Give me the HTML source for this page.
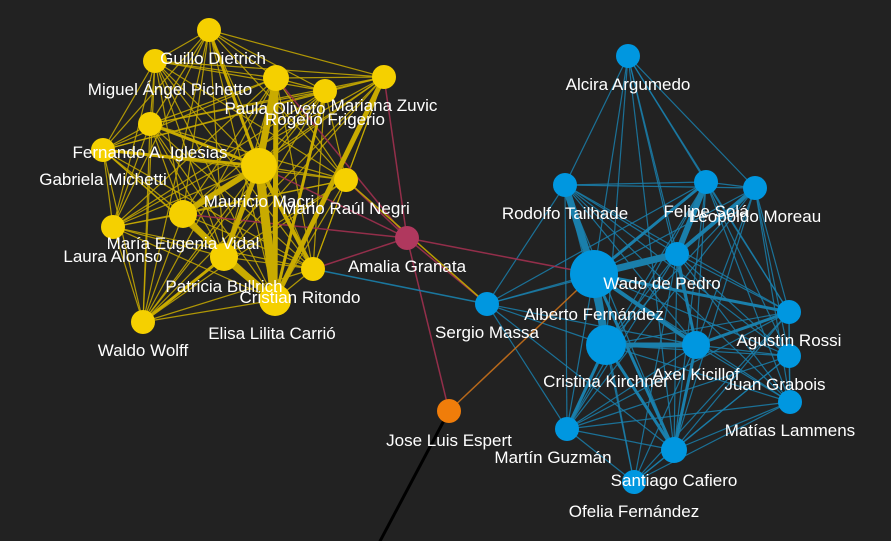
<!DOCTYPE html>
<html><head><meta charset="utf-8"><title>Network graph of Argentine politicians</title>
<style>
html,body{margin:0;padding:0;background:#222;width:891px;height:541px;overflow:hidden}
svg{display:block}
text{font-family:"Liberation Sans",sans-serif;font-size:17px;fill:#fff;text-anchor:middle}
</style></head><body>
<svg id="chart" width="891" height="541" viewBox="0 0 891 541">
<g id="edges"></g>
<g id="nodes"></g>
<g id="labels"></g>
</svg>
<script>
const nodeNames = ["Guillo Dietrich","Miguel Ángel Pichetto","Paula Oliveto","Rogelio Frigerio","Mariana Zuvic","Fernando A. Iglesias","Gabriela Michetti","Mauricio Macri","Mario Raúl Negri","María Eugenia Vidal","Laura Alonso","Patricia Bullrich","Elisa Lilita Carrió","Cristian Ritondo","Waldo Wolff","Amalia Granata","Jose Luis Espert","Alcira Argumedo","Rodolfo Tailhade","Felipe Solá","Leopoldo Moreau","Wado de Pedro","Alberto Fernández","Sergio Massa","Cristina Kirchner","Axel Kicillof","Agustín Rossi","Juan Grabois","Matías Lammens","Martín Guzmán","Santiago Cafiero","Ofelia Fernández"];
const nodeGroups = ["y","y","y","y","y","y","y","y","y","y","y","y","y","y","y","m","o","b","b","b","b","b","b","b","b","b","b","b","b","b","b","b"];
const nodeX = [209,155,276,325,384,150,103,259,346,183,113,224,275,313,143,407,449,628,565,706,755,677,594,487,606,696,789,789,790,567,674,634];
const nodeY = [30,61,78,91,77,124,150,166,180,214,227,257,300,269,322,238,411,56,185,182,188,254,274,304,345,345,312,356,402,429,450,482];
const nodeR = [12,12,13,12,12,12,12,18,12,14,12,14,16,12,12,12,12,12,12,12,12,12,24,12,20,14,12,12,12,12,13,12];
const labelX = [213,170,275,325,384,150,103,259,346,183,113,224,272,300,143,407,449,628,565,706,755,662,594,487,606,696,789,775,790,553,674,634];
const labelY = [64,95,114,125,111,158,185,207,214,249,262,292,339,303,356,272,446,90,219,217,222,289,320,338,387,380,346,390,436,463,486,517];
const thickEdges = [[7,12,9],[7,2,7],[7,9,6],[9,11,6],[11,12,7],[7,11,5],[4,12,5],[2,12,5],[7,13,4],[3,12,3],[0,7,3],[7,5,3],[11,14,3],[6,7,3],[9,12,3],[22,24,8],[22,18,7],[22,21,7],[21,19,6],[24,25,5],[22,25,4],[21,20,4],[22,26,3],[25,26,3],[24,29,3],[25,30,3],[22,30,3],[24,30,3],[21,25,3],[22,19,3]];
const crossEdges = [[15,4],[15,7],[15,8],[15,9],[15,13],[15,16],[15,22],[15,23],[15,2]];
const otherEdges = [[23,13,"#1a7fab"],[23,8,"#c8aa00"],[16,22,"#c8701a"]];
const blueSkip = [[17,23],[17,29],[17,31],[17,28],[17,27],[31,18],[31,20],[31,19],[31,23],[23,20],[23,26],[23,27],[23,28]];

const E = document.getElementById('edges'), N = document.getElementById('nodes'), L = document.getElementById('labels');
const NS = "http://www.w3.org/2000/svg";
const col = {y:"#f5d000",b:"#0097e0",m:"#b0385e",o:"#f07d0a"};
const ecol = {y:"#c9ab00",b:"#1a7fab"};
function line(a,b,c,w,o){
  const l=document.createElementNS(NS,'line');
  l.setAttribute('x1',nodeX[a]);l.setAttribute('y1',nodeY[a]);l.setAttribute('x2',nodeX[b]);l.setAttribute('y2',nodeY[b]);
  l.setAttribute('stroke',c);l.setAttribute('stroke-width',w);l.setAttribute('stroke-opacity',o);
  
  
  E.appendChild(l);
}
const bl=document.createElementNS(NS,'line');
bl.setAttribute('x1',nodeX[16]);bl.setAttribute('y1',nodeY[16]);bl.setAttribute('x2',378);bl.setAttribute('y2',545);
bl.setAttribute('stroke','#000');bl.setAttribute('stroke-width',3);


E.appendChild(bl);
function skip(a,b){return blueSkip.some(p=>(p[0]===a&&p[1]===b)||(p[0]===b&&p[1]===a));}
for(let i=0;i<nodeNames.length;i++)for(let j=i+1;j<nodeNames.length;j++){
  const g=nodeGroups[i];
  if(g===nodeGroups[j]&&(g==='y'||g==='b')&&!skip(i,j)) line(i,j,ecol[g],1.2,0.85);
}
crossEdges.forEach(e=>line(e[0],e[1],"#a0304f",1.5,0.9));
otherEdges.forEach(e=>line(e[0],e[1],e[2],1.5,0.9));
thickEdges.forEach(e=>line(e[0],e[1],ecol[nodeGroups[e[0]]],e[2],1));
nodeNames.forEach((n,i)=>{
  const c=document.createElementNS(NS,'circle');
  c.setAttribute('cx',nodeX[i]);c.setAttribute('cy',nodeY[i]);c.setAttribute('r',nodeR[i]);
  c.setAttribute('fill',col[nodeGroups[i]]);
  
  
  N.appendChild(c);
  const t=document.createElementNS(NS,'text');
  t.setAttribute('x',labelX[i]);t.setAttribute('y',labelY[i]);t.textContent=n;
  
  
  L.appendChild(t);
});
</script>
</body></html>
